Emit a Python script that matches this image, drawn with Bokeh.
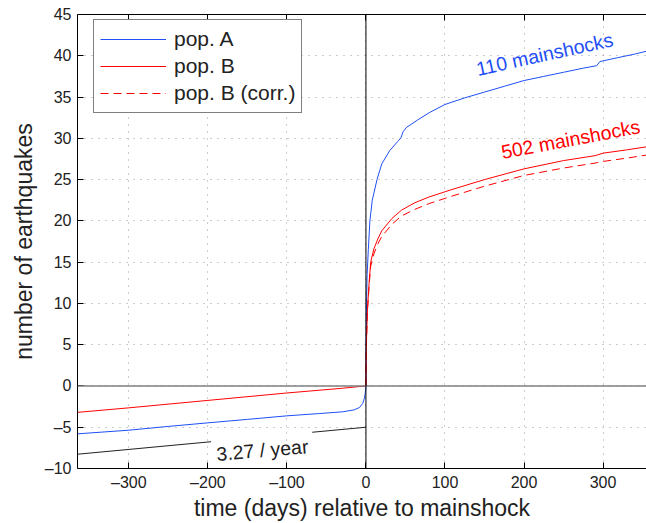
from bokeh.plotting import figure
from bokeh.models import Span, LinearAxis, FixedTicker, Range1d, Label, Legend, LegendItem
from bokeh.embed import file_html
from bokeh.resources import INLINE

# ---- data ----
t_a = [-365, -300, -250, -200, -150, -100, -60, -30, -15, -8, -4, -2, -1, -0.3, 0,
       0.1, 0.3, 0.7, 1.5, 3, 5, 8, 14, 20, 30, 40, 44, 47, 51, 65, 80, 100, 125, 150,
       175, 200, 225, 250, 275, 292, 296, 320, 340, 357]
y_a = [-5.8, -5.36, -4.9, -4.47, -4.05, -3.62, -3.35, -3.14, -2.9, -2.6, -2.1, -1.5, -0.9, -0.4, 0,
       3, 6, 10, 13.5, 16.5, 20, 22.5, 25, 26.9, 28.5, 29.6, 30.0, 30.8, 31.3, 32.2, 33.1, 34.1, 34.9, 35.6,
       36.3, 37.0, 37.5, 38.0, 38.5, 38.8, 39.3, 39.8, 40.2, 40.6]

t_b = [-365, -300, -200, -100, -30, -10, 0,
       0.2, 0.5, 1, 2, 4, 6, 10, 15, 20, 33, 45, 62, 80, 109, 150, 200, 250, 290, 300, 330, 357]
y_b = [-3.2, -2.65, -1.75, -0.85, -0.28, -0.09, 0,
       3, 5, 6.5, 9.5, 12.5, 15, 16.6, 17.8, 18.8, 20.3, 21.3, 22.2, 22.9, 23.8, 25.0, 26.3, 27.3, 27.9, 28.2, 28.6, 29.0]

t_bc = [0, 0.2, 0.5, 1, 2, 4, 6, 10, 15, 20, 33, 45, 62, 80, 109, 150, 200, 250, 290, 300, 330, 357]
y_bc = [0, 2.9, 4.8, 6.3, 9.2, 12.1, 14.5, 16.0, 17.2, 18.1, 19.6, 20.6, 21.4, 22.1, 23.0, 24.2, 25.5, 26.4, 27.0, 27.2, 27.6, 28.0]

rate_per_year = 3.27
ref_offset = -5.0
ref_seg1 = [-365, -196]
ref_seg2 = [-68, 0]

x_ticks = [-300, -200, -100, 0, 100, 200, 300]
x_tick_labels = ["\u2013300", "\u2013200", "\u2013100", "0", "100", "200", "300"]
y_ticks = [-10, -5, 0, 5, 10, 15, 20, 25, 30, 35, 40, 45]
y_tick_labels = ["\u201310", "\u20135", "0", "5", "10", "15", "20", "25", "30", "35", "40", "45"]

BLUE = "#1f4ff5"
RED = "#ff0000"
TXT = "#222222"
FONT = "Liberation Sans"

p = figure(width=646, height=523, output_backend="svg", toolbar_location=None,
           x_range=Range1d(-365, 355), y_range=Range1d(-10, 45),
           min_border_left=77, min_border_right=0, min_border_top=14, min_border_bottom=55)
p.outline_line_color = None
p.background_fill_color = "white"
p.border_fill_color = "white"

# grid
for g in (p.xgrid, p.ygrid):
    g.grid_line_color = "#9a9a9a"
    g.grid_line_dash = "1 6"
    g.grid_line_width = 1
p.xgrid.ticker = FixedTicker(ticks=x_ticks)
p.ygrid.ticker = FixedTicker(ticks=y_ticks)

# axes
p.xaxis.ticker = FixedTicker(ticks=x_ticks)
p.yaxis.ticker = FixedTicker(ticks=y_ticks)
p.xaxis.major_label_overrides = {v: s for v, s in zip(x_ticks, x_tick_labels)}
p.yaxis.major_label_overrides = {v: s for v, s in zip(y_ticks, y_tick_labels)}
for ax in (p.xaxis[0], p.yaxis[0]):
    ax.axis_line_color = "black"
    ax.axis_line_width = 1
    ax.major_tick_in = 6
    ax.major_tick_out = 0
    ax.minor_tick_line_color = None
    ax.major_tick_line_color = "black"
    ax.major_label_text_font = FONT
    ax.major_label_text_font_size = "16px"
    ax.major_label_text_color = TXT
    ax.axis_label_text_font = FONT
    ax.axis_label_text_font_size = "23px"
    ax.axis_label_text_font_style = "normal"
    ax.axis_label_text_color = TXT
p.xaxis.axis_label = "time (days) relative to mainshock"
p.yaxis.axis_label = "number of earthquakes"
p.xaxis.major_label_standoff = 5
p.xaxis.axis_label_standoff = 1
p.yaxis.major_label_standoff = 6
p.yaxis.axis_label_standoff = 5

top = LinearAxis(ticker=FixedTicker(ticks=x_ticks), major_label_text_font_size="0px",
                 major_label_text_color=None,
                 major_tick_in=6, major_tick_out=0, minor_tick_line_color=None,
                 major_label_standoff=0, axis_line_color="black")
p.add_layout(top, "above")

# zero lines
p.add_layout(Span(location=0, dimension="width", line_color="#7f7f7f", line_width=1.5))
p.add_layout(Span(location=0, dimension="height", line_color="black", line_width=1))

# reference rate line
def ref(t):
    return [ref_offset + rate_per_year * v / 365.0 for v in t]
p.line(ref_seg1, ref(ref_seg1), line_color=TXT, line_width=1)
p.line(ref_seg2, ref(ref_seg2), line_color=TXT, line_width=1)

# curves
ra = p.line(t_a, y_a, line_color=BLUE, line_width=1)
rbc = p.line(t_bc, y_bc, line_color=RED, line_width=1, line_dash="8 5")
rb = p.line(t_b, y_b, line_color=RED, line_width=1)

legend = Legend(items=[LegendItem(label="pop. A", renderers=[ra]),
                       LegendItem(label="pop. B", renderers=[rb]),
                       LegendItem(label="pop. B (corr.)", renderers=[rbc])],
                location=(16, 355))
legend.label_text_font = FONT
legend.label_text_font_size = "21px"
legend.label_text_color = TXT
legend.glyph_width = 66
legend.glyph_height = 26
legend.label_height = 26
legend.label_standoff = 8
legend.spacing = 1
legend.padding = 6
legend.margin = 0
legend.border_line_color = "black"
legend.border_line_width = 1
legend.background_fill_color = "white"
legend.background_fill_alpha = 1
p.add_layout(legend)

p.add_layout(Label(x=226, y=40.2, text="110 mainshocks", angle=0.216, text_align="center",
                   text_baseline="middle", text_color=BLUE, text_font=FONT, text_font_size="19.5px"))
p.add_layout(Label(x=259, y=29.9, text="502 mainshocks", angle=0.187, text_align="center",
                   text_baseline="middle", text_color=RED, text_font=FONT, text_font_size="19.5px"))
p.add_layout(Label(x=-131, y=-7.76, text="3.27 / year", angle=0.085, text_align="center",
                   text_baseline="middle", text_color=TXT, text_font=FONT, text_font_size="19.5px"))

open("out.html", "w").write(file_html(p, INLINE))
